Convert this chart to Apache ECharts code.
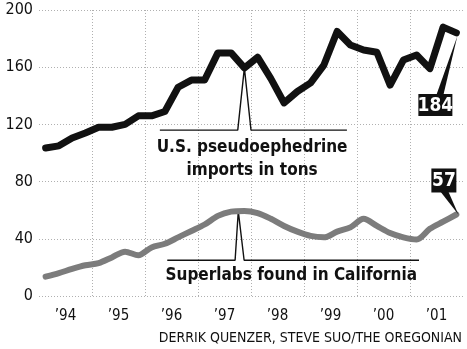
<!DOCTYPE html>
<html>
<head>
<meta charset="utf-8">
<script src="https://cdn.jsdelivr.net/npm/echarts@6/dist/echarts.min.js"></script>
<style>
  html, body { margin: 0; padding: 0; background: #fff; }
  #chart { width: 467px; height: 349px; }
</style>
</head>
<body>
<div id="chart"></div>
<script>
// Quarterly series, 1994 Q1 through 2001 Q4
const quarters = [
  '1994Q1','1994Q2','1994Q3','1994Q4','1995Q1','1995Q2','1995Q3','1995Q4',
  '1996Q1','1996Q2','1996Q3','1996Q4','1997Q1','1997Q2','1997Q3','1997Q4',
  '1998Q1','1998Q2','1998Q3','1998Q4','1999Q1','1999Q2','1999Q3','1999Q4',
  '2000Q1','2000Q2','2000Q3','2000Q4','2001Q1','2001Q2','2001Q3','2001Q4'
];
// U.S. pseudoephedrine imports, tons
const imports = [
  103.5, 105, 110.5, 114, 118, 118, 120, 126,
  126, 129, 146, 151, 151, 170, 170, 159.5,
  167, 152, 135, 143, 149, 161.5, 185, 175.5,
  172, 170.5, 147.5, 165, 168.5, 159, 188, 184
];
// Superlabs found in California
const superlabs = [
  13.5, 16, 19, 21.5, 23, 27, 31, 28.5,
  34, 36.5, 41, 45.5, 50, 56, 59, 59.5,
  58, 54, 49, 45, 42, 41, 45, 48,
  54, 49, 44, 41, 39.5, 47, 52, 57
];
const yTicks = [0, 40, 80, 120, 160, 200];
const yearLabels = ['\u201994', '\u201995', '\u201996', '\u201997', '\u201998', '\u201999', '\u201900', '\u201901'];

// Leader lines for the two series captions (year, value)
const importsLeader = [[1996.28, 116], [1997.75, 116], [1997.875, 159.5], [1998.0, 116], [1999.81, 116]];
const labsLeader = [[1996.42, 25], [1997.7, 25], [1997.76, 59.3], [1997.87, 25], [2001.17, 25]];

const importsCaption = 'U.S. pseudoephedrine\nimports in tons';
const labsCaption = 'Superlabs found in California';
const credit = 'DERRIK QUENZER, STEVE SUO/THE OREGONIAN';

function quarterPos(q) {
  const y = parseInt(q.slice(0, 4), 10);
  const n = parseInt(q.slice(5), 10);
  return y + (n - 0.5) / 4;
}
const xs = quarters.map(quarterPos);
const importsData = xs.map((x, i) => [x, imports[i]]);
const labsData = xs.map((x, i) => [x, superlabs[i]]);

const narrow = '"Liberation Sans Narrow", "DejaVu Sans Condensed", sans-serif';
const grid = '#b0b0b0';

const chart = echarts.init(document.getElementById('chart'), null, { renderer: 'canvas' });

const option = {
  animation: false,
  grid: { left: 39, right: 4, top: 10, bottom: 53 },
  xAxis: [
    {
      type: 'value', min: 1994, max: 2002, interval: 1,
      axisLine: { show: false }, axisTick: { show: false }, axisLabel: { show: false },
      splitLine: { show: true, showMinLine: false, showMaxLine: false,
        lineStyle: { color: grid, type: [1, 2], width: 1 } }
    },
    {
      type: 'value', min: 1994, max: 2002, interval: 0.5, position: 'bottom',
      axisLine: { show: false }, axisTick: { show: false }, splitLine: { show: false },
      axisLabel: {
        show: true, margin: 13, color: '#111', fontFamily: narrow, fontSize: 15,
        formatter: function (v) {
          if (Math.abs(v % 1 - 0.5) < 1e-6) return yearLabels[Math.floor(v) - 1994];
          return '';
        }
      }
    }
  ],
  yAxis: {
    type: 'value', min: 0, max: 200, interval: 40,
    axisLine: { show: false }, axisTick: { show: false },
    axisLabel: { color: '#111', fontFamily: narrow, fontSize: 16, margin: 6,
      formatter: v => yTicks.includes(v) ? String(v) : '' },
    splitLine: { show: true, lineStyle: { color: grid, type: [1, 2], width: 1 } }
  },
  series: [
    {
      type: 'line', data: importsLeader, xAxisIndex: 0, symbol: 'none', silent: true,
      lineStyle: { color: '#111', width: 1.4 }, z: 1
    },
    {
      type: 'line', data: labsLeader, xAxisIndex: 0, symbol: 'none', silent: true,
      lineStyle: { color: '#111', width: 1.4 }, z: 1
    },
    {
      name: 'Superlabs', type: 'line', data: labsData, xAxisIndex: 0, symbol: 'none',
      smooth: 0.3, lineStyle: { color: '#7c7c7c', width: 6, join: 'round', cap: 'round' }, z: 3
    },
    {
      name: 'Imports', type: 'line', data: importsData, xAxisIndex: 0, symbol: 'none',
      lineStyle: { color: '#111', width: 7, join: 'round', cap: 'round' }, z: 4
    }
  ]
};
chart.setOption(option);

function px(x, v) {
  return chart.convertToPixel({ xAxisIndex: 0, yAxisIndex: 0 }, [x, v]);
}

// Captions, end-value flags and credit line
const lastI = importsData[importsData.length - 1];
const lastL = labsData[labsData.length - 1];
const pI = px(lastI[0], lastI[1]);
const pL = px(lastL[0], lastL[1]);
const capI = px(1998.02, 96);
const capL = px(1998.76, 14);

const boxI = { x: pI[0] - 38, y: pI[1] + 61, w: 34, h: 22 };
const boxL = { x: pL[0] - 25, y: pL[1] - 46, w: 25, h: 24 };

chart.setOption({
  graphic: [
    { type: 'text', x: capI[0], y: capI[1], z: 10,
      style: { text: importsCaption, fill: '#111', font: 'bold 17px ' + narrow,
        textAlign: 'center', textVerticalAlign: 'middle', lineHeight: 23 } },
    { type: 'text', x: capL[0], y: capL[1], z: 10,
      style: { text: labsCaption, fill: '#111', font: 'bold 17px ' + narrow,
        textAlign: 'center', textVerticalAlign: 'middle' } },
    // 184 flag
    { type: 'polygon', z: 9,
      shape: { points: [[boxI.x + 18, boxI.y + 1], [boxI.x + 25, boxI.y + 1], [pI[0] + 1, pI[1] + 3]] },
      style: { fill: '#111' } },
    { type: 'rect', z: 9, shape: { x: boxI.x, y: boxI.y, width: boxI.w, height: boxI.h },
      style: { fill: '#111' } },
    { type: 'text', z: 10, x: boxI.x + boxI.w / 2, y: boxI.y + boxI.h / 2 + 1,
      style: { text: String(lastI[1]), fill: '#fff', font: 'bold 19px ' + narrow,
        textAlign: 'center', textVerticalAlign: 'middle' } },
    // 57 flag
    { type: 'polygon', z: 9,
      shape: { points: [[boxL.x + 9, boxL.y + boxL.h - 1], [boxL.x + 17, boxL.y + boxL.h - 1], [pL[0] + 2, pL[1]]] },
      style: { fill: '#111' } },
    { type: 'rect', z: 9, shape: { x: boxL.x, y: boxL.y, width: boxL.w, height: boxL.h },
      style: { fill: '#111' } },
    { type: 'text', z: 10, x: boxL.x + boxL.w / 2, y: boxL.y + boxL.h / 2 + 1,
      style: { text: String(lastL[1]), fill: '#fff', font: 'bold 19px ' + narrow,
        textAlign: 'center', textVerticalAlign: 'middle' } },
    { type: 'text', right: 5, bottom: 4, z: 10,
      style: { text: credit, fill: '#111', font: '14px ' + narrow } }
  ]
});
</script>
</body>
</html>
